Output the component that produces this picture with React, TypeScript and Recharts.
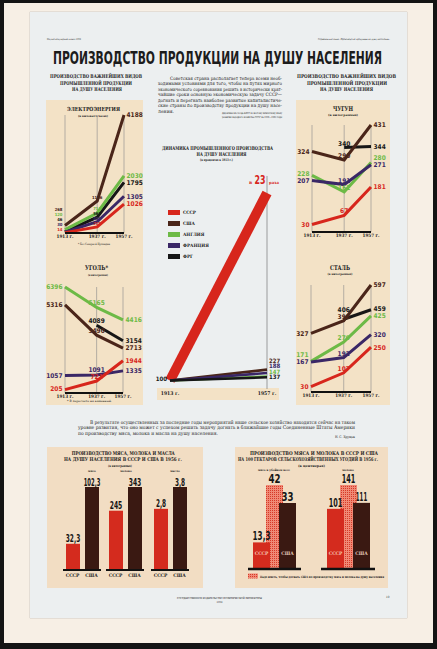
import React from "react";
import {
  LineChart,
  Line,
  XAxis,
  YAxis,
  CartesianGrid,
  BarChart,
  Bar,
  Cell,
  ReferenceLine,
  Legend,
} from "recharts";

// ---- data ----
const years = [1913, 1937, 1957];

// электроэнергия, квт-ч на душу населения
const elUsa = [268, 1136, 4188];
const elEngland = [120, 711, 2030];
const elFrg = [46, 560, 1795];
const elFrance = [30, 400, 1305];
const elUssr = [14, 218, 1026];

// уголь, кг
const coalUsa = [5316, 3490, 2713];
const coalEngland = [6396, 5165, 4416];
const coalFrg = [null, 4089, 3154];
const coalFrance = [1057, 1091, 1335];
const coalUssr = [205, 721, 1944];

// чугун, кг
const ironUsa = [324, 290, 431];
const ironEngland = [228, 162, 280];
const ironFrg = [null, 340, 344];
const ironFrance = [207, 191, 271];
const ironUssr = [30, 67, 181];

// сталь, кг
const steelUsa = [327, 398, 597];
const steelEngland = [171, 279, 425];
const steelFrg = [null, 406, 459];
const steelFrance = [167, 192, 320];
const steelUssr = [30, 107, 250];

// динамика, % к 1913 г.
const dynYears = [1913, 1957];
const dynUssr = [100, 2300];
const dynUsa = [100, 227];
const dynEngland = [100, 147];
const dynFrance = [100, 188];
const dynFrg = [100, 137];
const legendOrder = ["СССР", "США", "АНГЛИЯ", "ФРАНЦИЯ", "ФРГ"];

// мясо, молоко, масло на душу, кг (1956)
const foodGroups = ["мясо", "молоко", "масло"];
const foodUssr = [32.3, 245, 2.8];
const foodUsa = [102.3, 343, 3.8];

// на 100 га угодий, центнеров (1956)
const landGroups = ["мясо в убойном весе", "молоко"];
const landUssr = [13.3, 101];
const landNeed = [42, 141];
const landUsa = [33, 111];

// ---- style ----
const FS = "'DejaVu Sans Condensed', 'DejaVu Sans', sans-serif";
const FR = "'DejaVu Serif Condensed', 'DejaVu Serif', 'Liberation Serif', serif";
const C = {
  red: "#d7261c",
  brown: "#4a2519",
  green: "#6dba46",
  purple: "#3a2766",
  black: "#161616",
  dark: "#3a1912",
  barRed: "#d42b1e",
  beige: "#f3e2c6",
  beige2: "#f2ddc3",
};

type Series = { key: string; name: string; color: string; values: (number | null)[] };

const makeSeries = (
  usa: (number | null)[],
  eng: (number | null)[],
  frg: (number | null)[],
  fra: (number | null)[],
  ussr: (number | null)[]
): Series[] => [
  { key: "frg", name: "ФРГ", color: C.black, values: frg },
  { key: "usa", name: "США", color: C.brown, values: usa },
  { key: "eng", name: "АНГЛИЯ", color: C.green, values: eng },
  { key: "fra", name: "ФРАНЦИЯ", color: C.purple, values: fra },
  { key: "ussr", name: "СССР", color: C.red, values: ussr },
];

const fmt = (v: number) => String(v).replace(".", ",");
const numLen = (s: string, one: number, digit: number, comma: number) =>
  s.split("").reduce((a, ch) => a + (ch === "1" ? one : ch === "," ? comma : digit), 0);

type Box = { left: number; top: number; w: number; h: number };
type Margin = { top: number; right: number; bottom: number; left: number };

function SmallLineChart({
  box,
  margin,
  xh,
  series,
  sizes,
}: {
  box: Box;
  margin: Margin;
  xh: number;
  series: Series[];
  sizes: number[];
}) {
  const data = years.map((year, i) => {
    const row: Record<string, number | null> = { year };
    series.forEach((s) => (row[s.key] = s.values[i]));
    return row;
  });
  const max = Math.max(...series.flatMap((s) => s.values.filter((v): v is number => v != null)));
  const plotH = box.h - margin.top - margin.bottom - xh;
  const k = plotH / max;

  // label heights above baseline, spread so they don't overlap
  const centres: Record<string, (number | null)[]> = {};
  series.forEach((s) => (centres[s.key] = years.map(() => null)));
  years.forEach((_, i) => {
    const size = sizes[i];
    const mid = i > 0 && i < years.length - 1;
    const items = series
      .filter((s) => s.values[i] != null)
      .map((s) => ({ key: s.key, c: (s.values[i] as number) * k + (mid ? 2 + size * 0.36 : 0) }))
      .sort((a, b) => a.c - b.c);
    let prev = -Infinity;
    items.forEach((it) => {
      let c = Math.max(it.c, 4);
      if (c < prev + size + 0.6) c = prev + size + 0.6;
      centres[it.key][i] = c;
      prev = c;
    });
  });

  const renderLabel = (s: Series) => (p: any) => {
    const { cx, cy, index, payload } = p;
    const v = payload ? payload[s.key] : null;
    if (v == null || cx == null || cy == null) return <g key={`${s.key}-${index}`} />;
    const size = sizes[index];
    const base = cy + v * k;
    const c = centres[s.key][index] as number;
    const y = base - c + size * 0.36;
    const last = index === years.length - 1;
    const x = index === 0 ? cx - 2.5 : last ? cx + 2.5 : cx;
    const anchor = index === 0 ? "end" : last ? "start" : "middle";
    return (
      <text
        key={`${s.key}-${index}`}
        x={x}
        y={y}
        textAnchor={anchor}
        fontSize={size}
        fontFamily={FS}
        fontWeight="bold"
        fill={s.color}
      >
        {v}
      </text>
    );
  };

  return (
    <div style={{ position: "absolute", left: box.left, top: box.top }}>
      <LineChart width={box.w} height={box.h} data={data} margin={margin}>
        <CartesianGrid horizontal={false} stroke="#8a8a8a" strokeWidth={0.6} />
        <XAxis
          dataKey="year"
          type="number"
          domain={[1913, 1957]}
          ticks={years}
          interval={0}
          height={xh}
          tickSize={0}
          tickMargin={1.5}
          tickFormatter={(y) => `${y} г.`}
          tick={{ fontSize: 4.6, fill: "#1a1a1a", fontFamily: FR, fontWeight: "bold" }}
          axisLine={{ stroke: "#111", strokeWidth: 2 }}
          tickLine={false}
        />
        <YAxis hide domain={[0, max]} />
        {series.map((s) => (
          <Line
            key={s.key}
            dataKey={s.key}
            name={s.name}
            type="linear"
            stroke={s.color}
            strokeWidth={3}
            dot={renderLabel(s)}
            activeDot={false}
            connectNulls={false}
            isAnimationActive={false}
          />
        ))}
      </LineChart>
    </div>
  );
}

function DynamicsChart() {
  const data = dynYears.map((year, i) => ({
    year,
    ussr: dynUssr[i],
    usa: dynUsa[i],
    eng: dynEngland[i],
    fra: dynFrance[i],
    frg: dynFrg[i],
  }));
  const max = Math.max(...dynUssr);
  const margin = { top: 23, right: 18, bottom: 0, left: 20 };
  const h = 232;
  const xh = 13;
  const k = (h - margin.top - margin.bottom - xh) / max;
  const others: Series[] = [
    { key: "usa", name: "США", color: C.brown, values: dynUsa },
    { key: "eng", name: "АНГЛИЯ", color: C.green, values: dynEngland },
    { key: "fra", name: "ФРАНЦИЯ", color: C.purple, values: dynFrance },
    { key: "frg", name: "ФРГ", color: C.black, values: dynFrg },
  ];
  const last = dynYears.length - 1;
  const ends: Record<string, number> = {};
  let prev = -Infinity;
  others
    .map((s) => ({ key: s.key, c: (s.values[last] as number) * k }))
    .sort((a, b) => a.c - b.c)
    .forEach((it) => {
      let c = it.c;
      if (c < prev + 5.6) c = prev + 5.6;
      ends[it.key] = c;
      prev = c;
    });

  const otherLabel = (s: Series) => (p: any) => {
    const { cx, cy, index, payload } = p;
    const v = payload ? payload[s.key] : null;
    if (index !== last || v == null) return <g key={`${s.key}-${index}`} />;
    const y = cy + v * k - ends[s.key] + 2;
    return (
      <text key={`${s.key}-${index}`} x={cx + 2} y={y} fontSize={6} fontFamily={FS} fontWeight="bold" fill={s.color}>
        {v}
      </text>
    );
  };
  const redLabel = (p: any) => {
    const { cx, cy, index, payload } = p;
    if (index === 0) {
      return (
        <text key="r0" x={cx - 3} y={cy + 1} textAnchor="end" fontSize={6} fontFamily={FS} fontWeight="bold" fill="#1a1a1a">
          {payload.ussr}
        </text>
      );
    }
    return (
      <g key="r1">
        <text x={cx - 18} y={cy - 9.5} fontSize={5} fontFamily={FR} fontWeight="bold" fill={C.red}>
          в
        </text>
        <text x={cx - 12.5} y={cy - 9} fontSize={12} textLength={11} lengthAdjust="spacingAndGlyphs" fontFamily={FS} fontWeight="bold" fill={C.red}>
          {payload.ussr / 100}
        </text>
        <text x={cx + 2} y={cy - 9.5} fontSize={4} textLength={10} lengthAdjust="spacingAndGlyphs" fontFamily={FR} fontWeight="bold" fill={C.red}>
          раза
        </text>
      </g>
    );
  };

  return (
    <div style={{ position: "absolute", left: 150, top: 170 }}>
      <LineChart width={135} height={h} data={data} margin={margin}>
        <XAxis
          dataKey="year"
          type="number"
          domain={[1913, 1957]}
          ticks={dynYears}
          interval={0}
          height={xh}
          tickSize={0}
          tickMargin={2}
          tickFormatter={(y) => `${y} г.`}
          tick={{ fontSize: 5, fill: "#1a1a1a", fontFamily: FR, fontWeight: "bold" }}
          axisLine={false}
          tickLine={false}
        />
        <YAxis hide domain={[0, max]} />
        <ReferenceLine
          segment={[
            { x: 1957, y: 0 },
            { x: 1957, y: 2500 },
          ]}
          ifOverflow="visible"
          stroke="#7a7a7a"
          strokeWidth={0.7}
        />
        <Line
          dataKey="ussr"
          name="СССР"
          stroke={C.red}
          strokeWidth={10}
          dot={redLabel}
          activeDot={false}
          isAnimationActive={false}
        />
        {others.map((s) => (
          <Line
            key={s.key}
            dataKey={s.key}
            name={s.name}
            stroke={s.color}
            strokeWidth={2.6}
            dot={otherLabel(s)}
            activeDot={false}
            isAnimationActive={false}
          />
        ))}
        <Legend
          layout="horizontal"
          verticalAlign="middle"
          align="center"
          wrapperStyle={{ left: 18, top: 36.5, width: 60, height: 56 }}
          content={(props: any) => {
            const items = [...(props.payload || [])].sort(
              (a: any, b: any) => legendOrder.indexOf(a.value) - legendOrder.indexOf(b.value)
            );
            return (
              <div>
                {items.map((item: any) => (
                  <div key={item.value} style={{ display: "flex", alignItems: "center", height: 11 }}>
                    <span style={{ display: "inline-block", width: 12, height: 5, background: item.color, marginRight: 3 }} />
                    <span style={{ fontSize: 4.6, fontFamily: FR, fontWeight: "bold", color: "#1c1c1c", lineHeight: "5px" }}>
                      {item.value}
                    </span>
                  </div>
                ))}
              </div>
            );
          }}
        />
      </LineChart>
    </div>
  );
}

function FoodChart({ g, plotLeft }: { g: number; plotLeft: number }) {
  const data = [
    { who: "СССР", value: foodUssr[g] },
    { who: "США", value: foodUsa[g] },
  ];
  const max = Math.max(foodUssr[g], foodUsa[g]);
  const colors = [C.barRed, C.dark];
  const pad = 10;
  const shape = (p: any) => {
    const { x, y, width, height, index, payload } = p;
    const s = fmt(payload.value);
    return (
      <g>
        <rect x={x} y={y} width={width} height={height} fill={colors[index]} />
        <text
          x={x + width / 2}
          y={y - 1.5}
          textAnchor="middle"
          fontSize={11}
          textLength={numLen(s, 2.2, 4.2, 1.8)}
          lengthAdjust="spacingAndGlyphs"
          fontFamily={FS}
          fontWeight="bold"
          fill="#151515"
        >
          {s}
        </text>
      </g>
    );
  };
  return (
    <div style={{ position: "absolute", left: plotLeft - pad, top: 465 }}>
      <BarChart width={38 + 2 * pad} height={116} data={data} margin={{ top: 22, right: pad, bottom: 0, left: pad }} barCategoryGap={2}>
        <XAxis
          dataKey="who"
          height={11}
          tickSize={0}
          tickMargin={4}
          interval={0}
          tick={{ fontSize: 4.8, fill: "#222", fontFamily: FR, fontWeight: "bold" }}
          axisLine={{ stroke: "#111", strokeWidth: 2 }}
          tickLine={false}
        />
        <YAxis hide domain={[0, max]} />
        <Bar dataKey="value" barSize={14} shape={shape} isAnimationActive={false}>
          {data.map((d, i) => (
            <Cell key={d.who} fill={colors[i]} />
          ))}
        </Bar>
      </BarChart>
    </div>
  );
}

function LandChart({ g, plotLeft, width, layer }: { g: number; plotLeft: number; width: number; layer: "back" | "front" }) {
  const data = [{ g: landGroups[g], ussr: landUssr[g], need: landNeed[g], usa: landUsa[g] }];
  const max = Math.max(landUssr[g], landNeed[g], landUsa[g]);
  const hatch = `hatch-${g}`;
  const pad = 10;
  const shape = (key: string, fill: string, inner: string | null, innerColor: string) => (p: any) => {
    const visible = layer === "back" ? key === "need" : key !== "need";
    if (!visible) return <g />;
    const { x, y, width: w, height: hh, payload } = p;
    const s = fmt(payload[key]);
    return (
      <g>
        <rect x={x} y={y} width={w} height={hh} fill={fill} />
        <text
          x={x + w / 2}
          y={y - 2}
          textAnchor="middle"
          fontSize={13}
          textLength={numLen(s, 3.8, 6, 2)}
          lengthAdjust="spacingAndGlyphs"
          fontFamily={FS}
          fontWeight="bold"
          fill="#151515"
        >
          {s}
        </text>
        {inner && (
          <text x={x + w / 2} y={y + hh - 14} textAnchor="middle" fontSize={4.8} fontFamily={FR} fontWeight="bold" fill={innerColor}>
            {inner}
          </text>
        )}
      </g>
    );
  };
  return (
    <div style={{ position: "absolute", left: plotLeft - pad, top: 466 }}>
      <BarChart
        width={width + 2 * pad}
        height={105}
        data={data}
        margin={{ top: 19, right: pad, bottom: 2, left: pad }}
        barGap={-4}
        barCategoryGap={0}
      >
        <defs>
          <pattern id={hatch} patternUnits="userSpaceOnUse" width={2} height={2}>
            <rect width={2} height={2} fill="#f08a76" />
            <rect width={1} height={1} fill="#d63a28" />
          </pattern>
        </defs>
        <XAxis dataKey="g" hide />
        <YAxis hide domain={[0, max]} />
        <Bar dataKey="ussr" barSize={17} shape={shape("ussr", C.barRed, "СССР", "#f6c7b4")} isAnimationActive={false} />
        <Bar dataKey="need" barSize={17} shape={shape("need", `url(#${hatch})`, null, "")} isAnimationActive={false} />
        <Bar dataKey="usa" barSize={17} shape={shape("usa", C.dark, "США", "#e7cdbd")} isAnimationActive={false} />
        {layer === "front" && <ReferenceLine y={0} stroke="#111" strokeWidth={2.5} />}
      </BarChart>
    </div>
  );
}

const T = ({
  x,
  y,
  len,
  size,
  children,
  anchor = "start",
  serif = true,
  bold = true,
  fill = "#1c1c1c",
}: {
  x: number;
  y: number;
  len?: number;
  size: number;
  children: React.ReactNode;
  anchor?: "start" | "middle" | "end";
  serif?: boolean;
  bold?: boolean;
  fill?: string;
}) => (
  <text
    x={x}
    y={y}
    fontSize={size}
    textLength={len}
    lengthAdjust={len ? "spacingAndGlyphs" : undefined}
    textAnchor={anchor}
    fontFamily={serif ? FR : FS}
    fontWeight={bold ? "bold" : "normal"}
    fill={fill}
  >
    {children}
  </text>
);

export default function App() {
  const panel = (left: number, top: number, w: number, h: number, bg: string) => (
    <div style={{ position: "absolute", left, top, width: w, height: h, background: bg }} />
  );
  return (
    <div style={{ position: "fixed", left: 0, top: 0, width: 437, height: 649, background: "#141414", overflow: "hidden" }}>
      <div style={{ position: "absolute", left: 4, top: 3, width: 429, height: 640, background: "#f7efe5" }} />
      <div style={{ position: "absolute", left: 30, top: 12, width: 377, height: 606, background: "#eceff0", boxShadow: "0 0 1px #888" }} />
      {panel(46, 100, 97, 305, C.beige)}
      {panel(296, 100, 94, 305, C.beige)}
      {panel(157, 388, 122, 12, C.beige)}
      {panel(47, 447, 156, 141, C.beige2)}
      {panel(235, 447, 153, 141, C.beige2)}

      <SmallLineChart
        box={{ left: 46, top: 100, w: 97, h: 145 }}
        margin={{ top: 15, right: 19, bottom: 0, left: 19 }}
        xh={12}
        series={makeSeries(elUsa, elEngland, elFrg, elFrance, elUssr)}
        sizes={[4.2, 4.2, 6.5]}
      />
      <SmallLineChart
        box={{ left: 46, top: 262, w: 97, h: 141 }}
        margin={{ top: 25, right: 20, bottom: 0, left: 19 }}
        xh={10}
        series={makeSeries(coalUsa, coalEngland, coalFrg, coalFrance, coalUssr)}
        sizes={[6.5, 6.5, 6.5]}
      />
      <SmallLineChart
        box={{ left: 296, top: 100, w: 94, h: 145 }}
        margin={{ top: 25, right: 19, bottom: 0, left: 16 }}
        xh={13}
        series={makeSeries(ironUsa, ironEngland, ironFrg, ironFrance, ironUssr)}
        sizes={[6.5, 6.5, 6.5]}
      />
      <SmallLineChart
        box={{ left: 296, top: 262, w: 94, h: 141 }}
        margin={{ top: 23, right: 19, bottom: 0, left: 15 }}
        xh={11}
        series={makeSeries(steelUsa, steelEngland, steelFrg, steelFrance, steelUssr)}
        sizes={[6.5, 6.5, 6.5]}
      />

      <DynamicsChart />

      <FoodChart g={0} plotLeft={63} />
      <FoodChart g={1} plotLeft={106} />
      <FoodChart g={2} plotLeft={151} />

      <LandChart g={0} plotLeft={248} width={53} layer="back" />
      <LandChart g={0} plotLeft={248} width={53} layer="front" />
      <LandChart g={1} plotLeft={321} width={54} layer="back" />
      <LandChart g={1} plotLeft={321} width={54} layer="front" />

      <svg width={437} height={649} style={{ position: "absolute", left: 0, top: 0, pointerEvents: "none" }}>
        <defs>
          <pattern id="hatchLegend" patternUnits="userSpaceOnUse" width={2} height={2}>
            <rect width={2} height={2} fill="#f08a76" />
            <rect width={1} height={1} fill="#d63a28" />
          </pattern>
        </defs>
        <T x={47} y={40} len={34} size={2.6} bold={false}>Научно-популярный плакат 1958</T>
        <T x={318} y={40} len={72} size={2.6} bold={false}>Серийная выставка «Производство продукции на душу населения»</T>
        <T x={53} y={64} len={329} size={17} serif={false}>ПРОИЗВОДСТВО ПРОДУКЦИИ НА ДУШУ НАСЕЛЕНИЯ</T>

        <T x={96} y={78} len={92} size={5.2} anchor="middle">ПРОИЗВОДСТВО ВАЖНЕЙШИХ ВИДОВ</T>
        <T x={96} y={84.5} len={72} size={5.2} anchor="middle">ПРОМЫШЛЕННОЙ ПРОДУКЦИИ</T>
        <T x={97} y={91} len={50} size={5.2} anchor="middle">НА ДУШУ НАСЕЛЕНИЯ</T>
        <T x={346.5} y={78} len={99} size={5.2} anchor="middle">ПРОИЗВОДСТВО ВАЖНЕЙШИХ ВИДОВ</T>
        <T x={347} y={84.5} len={80} size={5.2} anchor="middle">ПРОМЫШЛЕННОЙ ПРОДУКЦИИ</T>
        <T x={346.5} y={91} len={53} size={5.2} anchor="middle">НА ДУШУ НАСЕЛЕНИЯ</T>

        <T x={93.5} y={111} len={53} size={5.6} anchor="middle">ЭЛЕКТРОЭНЕРГИЯ</T>
        <T x={93} y={116.5} len={30} size={3} anchor="middle">(в киловатт-часах)</T>
        <T x={94} y={244.5} len={32} size={3} anchor="middle" bold={false}>* Без Северной Ирландии</T>
        <T x={96.5} y={270} len={23} size={6.5} anchor="middle">УГОЛЬ*</T>
        <T x={98} y={275.5} len={20} size={3} anchor="middle">(в килограммах)</T>
        <T x={67} y={401.5} len={45} size={3} bold={false}>* В пересчете на каменный.</T>
        <T x={343} y={111} len={20} size={6.5} anchor="middle">ЧУГУН</T>
        <T x={343} y={116} len={30} size={3} anchor="middle">(в килограммах)</T>
        <T x={340} y={269.5} len={20} size={6.5} anchor="middle">СТАЛЬ</T>
        <T x={340} y={275} len={25} size={3} anchor="middle">(в килограммах)</T>

        <T x={170} y={79.5} len={112} size={4.6} bold={false}>Советская страна располагает теперь всеми необ-</T>
        <T x={158} y={85} len={124} size={4.6} bold={false}>ходимыми условиями для того, чтобы на путях мирного</T>
        <T x={158} y={90.5} len={124} size={4.6} bold={false}>экономического соревнования решить в исторически крат-</T>
        <T x={158} y={96} len={124} size={4.6} bold={false}>чайшие сроки основную экономическую задачу СССР—</T>
        <T x={158} y={101.5} len={124} size={4.6} bold={false}>догнать и перегнать наиболее развитые капиталистиче-</T>
        <T x={158} y={107} len={124} size={4.6} bold={false}>ские страны по производству продукции на душу насе-</T>
        <T x={158} y={112.5} len={16} size={4.6} bold={false}>ления.</T>
        <T x={222} y={114} len={60} size={2.8} bold={false}>Директивы XX съезда КПСС по шестому пятилетнему плану</T>
        <T x={222} y={117.5} len={60} size={2.8} bold={false}>развития народного хозяйства СССР на 1956—1960 годы</T>

        <T x={217.5} y={149.5} len={111} size={5.2} anchor="middle">ДИНАМИКА ПРОМЫШЛЕННОГО ПРОИЗВОДСТВА</T>
        <T x={221.5} y={155.5} len={50} size={5.2} anchor="middle">НА ДУШУ НАСЕЛЕНИЯ</T>
        <T x={216.5} y={161} len={33} size={3.5} anchor="middle">(в процентах к 1913 г.)</T>

        <T x={90} y={423.5} len={265} size={5} bold={false}>В результате осуществленных за последние годы мероприятий наше сельское хозяйство находится сейчас на таком</T>
        <T x={78} y={429} len={277} size={5} bold={false}>уровне развития, что оно может с успехом решить задачу догнать в ближайшие годы Соединенные Штаты Америки</T>
        <T x={78} y={434.5} len={140} size={5} bold={false}>по производству мяса, молока и масла на душу населения.</T>
        <T x={355} y={437.5} len={20} size={3.4} anchor="end" bold={false}>Н. С. Хрущев</T>

        <T x={123.3} y={454.5} len={103} size={5} anchor="middle">ПРОИЗВОДСТВО МЯСА, МОЛОКА И МАСЛА</T>
        <T x={123} y={461} len={118} size={5} anchor="middle">НА ДУШУ НАСЕЛЕНИЯ В СССР И США В 1956 г.</T>
        <T x={120} y={466.5} len={24} size={3.2} anchor="middle">(в килограммах)</T>
        <T x={92} y={472} size={3} anchor="middle">{foodGroups[0]}</T>
        <T x={126} y={472} size={3} anchor="middle">{foodGroups[1]}</T>
        <T x={175} y={472} size={3} anchor="middle">{foodGroups[2]}</T>

        <T x={314} y={454.5} len={128} size={5} anchor="middle">ПРОИЗВОДСТВО МЯСА И МОЛОКА В СССР И США</T>
        <T x={308} y={461} len={140} size={5} anchor="middle">НА 100 ГЕКТАРОВ СЕЛЬСКОХОЗЯЙСТВЕННЫХ УГОДИЙ В 1956 г.</T>
        <T x={311.5} y={466.5} len={27} size={3.2} anchor="middle">(в центнерах)</T>
        <T x={274} y={471} len={32} size={3} anchor="middle">{landGroups[0]}</T>
        <T x={348} y={471} size={3} anchor="middle">{landGroups[1]}</T>
        <rect x={248} y={573.5} width={10} height={5} fill="url(#hatchLegend)" />
        <T x={260} y={577.8} len={124} size={3.2}>Надо иметь, чтобы догнать США по производству мяса и молока на душу населения</T>

        <T x={177} y={599} len={85} size={2.6} bold={false}>ГОСУДАРСТВЕННОЕ ИЗДАТЕЛЬСТВО ПОЛИТИЧЕСКОЙ ЛИТЕРАТУРЫ</T>
        <T x={219.5} y={603} size={2.6} anchor="middle" bold={false}>1958</T>
        <T x={386} y={597.5} size={3} bold={false}>19</T>
      </svg>
    </div>
  );
}
